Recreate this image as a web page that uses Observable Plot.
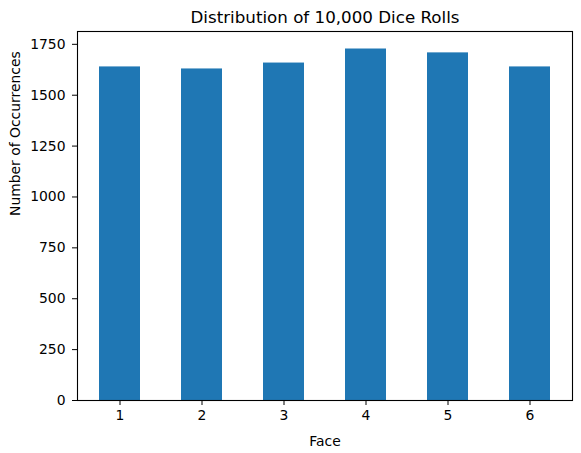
<!DOCTYPE html>
<html>
<head>
<meta charset="utf-8">
<script src="https://cdn.jsdelivr.net/npm/d3@7"></script>
<script src="https://cdn.jsdelivr.net/npm/@observablehq/plot@0.6"></script>
<style>
  html, body { margin: 0; padding: 0; background: white; }
</style>
</head>
<body>
<div id="chart"></div>
<script>
const faces = ["1", "2", "3", "4", "5", "6"];
const counts = [1639, 1629, 1658, 1727, 1708, 1639];
const yTicks = [0, 250, 500, 750, 1000, 1250, 1500, 1750];
const title = "Distribution of 10,000 Dice Rolls";
const xLabel = "Face";
const yLabel = "Number of Occurrences";

const data = faces.map((f, i) => ({face: f, count: counts[i]}));

const chart = Plot.plot({
  width: 581,
  height: 453,
  marginTop: 31,
  marginBottom: 53,
  marginLeft: 77,
  marginRight: 9,
  style: {fontFamily: "DejaVu Sans", fontSize: "13.9px", background: "white", color: "black"},
  x: {domain: faces, paddingInner: 0.5, paddingOuter: 0.25, label: null},
  y: {domain: [0, 1813], label: null},
  marks: [
    Plot.barY(data, {x: "face", y: "count", fill: "#1f77b4"}),
    Plot.frame({stroke: "black", strokeWidth: 1.1}),
    Plot.axisX({tickSize: 5, tickPadding: 5, label: null, fontSize: 13.9}),
    Plot.axisY({ticks: yTicks, tickFormat: d3.format("d"), tickSize: 5, tickPadding: 7, label: null, fontSize: 13.9}),
    Plot.text([title], {text: d => d, frameAnchor: "top", dy: -14, fontSize: 16.7, lineAnchor: "middle"}),
    Plot.text([xLabel], {text: d => d, frameAnchor: "bottom", dy: 41, fontSize: 13.9, lineAnchor: "middle"}),
    Plot.text([yLabel], {text: d => d, frameAnchor: "left", dx: -61.5, rotate: -90, fontSize: 13.9, lineAnchor: "middle"})
  ]
});
document.getElementById("chart").appendChild(chart);
</script>
</body>
</html>
